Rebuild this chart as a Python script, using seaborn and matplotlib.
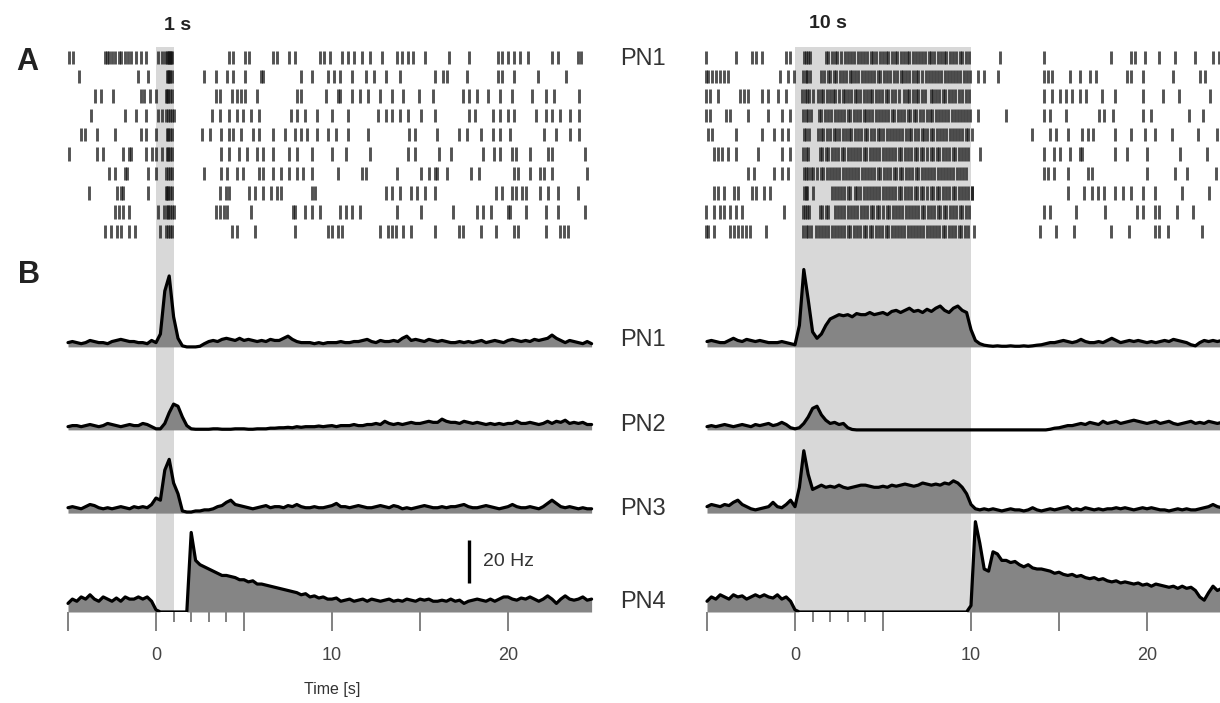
import numpy as np
import matplotlib
matplotlib.use('Agg')
import matplotlib.pyplot as plt
import seaborn as sns
from matplotlib.ticker import FixedLocator, FixedFormatter

sns.set_theme(style='white')
plt.rcParams['font.family'] = ['Liberation Sans', 'DejaVu Sans']

# ---------------- data ----------------
T_START, T_STEP, N_BINS = -5.0, 0.25, 120
STIM_LEFT, STIM_RIGHT = 1.0, 10.0
NEURONS = ['PN1', 'PN2', 'PN3', 'PN4']
OFFSETS = [123.3, 84.7, 46.0, 0.0]          # stacking baselines (Hz units)
MAJOR_TICKS = [-5, 0, 5, 10, 15, 20]
MAJOR_LABELS = ['', '0', '', '10', '', '20']
MINOR_TICKS = [1, 2, 3, 4]
SCALE_HZ = 20

def parse(s):
    return [float(v) for v in s.replace('|', ' ').split()]

# firing rates (Hz), 4 values per second from -5 s
PN1_L = parse("""2 2.5 2 1.5 | 2 3 2.5 2 | 2 1.5 2.5 3 | 3.5 3 2.5 2.5 | 2 2 1.5 3 |
2 6 26 33 | 14 4 0.5 0 | 0 0 0.3 1.5 | 2.5 3 2.5 3.5 | 4 3.5 3 4 | 3 3.5 3 2.5 |
3 2.5 3.5 3 | 3 4 5 3.5 | 2.5 2 2 2 | 1.5 2 1.5 2 | 2 2 2.5 2 | 2 2.5 2.5 3 |
3.5 2.5 2 3 | 2.5 2.5 3 2.5 | 4 5 3 3.5 | 3 2.5 3.5 3 | 2.5 3 2.5 2 | 2 2.5 2 2.5 |
2 2.5 3 2 | 2.5 3 2.5 2 | 3 3.5 3 2.5 | 3 2.5 3.5 3 | 3.5 4 5.5 4 | 3 2 3 2.5 | 2 1.5 2.5 1.5""")
PN2_L = parse("""1.5 2 2 1.5 | 2 2.5 2 1.5 | 2 3 2.5 2 | 1.5 2 2.5 2 | 2 3 2.5 1.5 |
0.5 0.5 3 8 | 12 11 6 2 | 0.5 0.3 0.3 0.3 | 0.3 0.5 0.5 0.3 | 0.3 0.3 0.5 0.5 |
0.5 0.3 0.3 0.5 | 0.5 0.5 0.8 0.8 | 1 1 1.2 1 | 1.5 1.2 1.5 1.5 | 1.5 1.8 1.5 1.8 |
2 1.5 2 2 | 2 2.5 2 2 | 2.5 2.5 3 2.5 | 4 3 2.5 3 | 2.5 3 3.5 3 | 3 3.5 4 3.5 |
3.5 5 4 3.5 | 3.5 3 4 3.5 | 3 3.5 3 2.5 | 3 2.5 3 2.5 | 3 3 4 3 | 3 3.5 3 2.5 |
3 4 3 4 | 3.5 4.5 3 3.5 | 3 3.5 2.5 2.5""")
PN3_L = parse("""2.5 3 2.5 2 | 3 4 3.5 2.5 | 2 2.5 2 2.5 | 3 2.5 2 3 | 2.5 3 2.5 4 |
7 6 20 25 | 14 9 1 0.5 | 0.5 1 1 1.5 | 1.5 2 3 3.5 | 5 6 4 3.5 | 3 2.5 2 2.5 |
3 3.5 2.5 3 | 3 2.5 3.5 3 | 4 3 2.5 2.5 | 3 2.5 2.5 3 | 3.5 4.5 3 3 | 2.5 3 3.5 3 |
2.5 2.5 3 3.5 | 3 2.5 3.5 3 | 2 2.5 2 2.5 | 3 3.5 3 2.5 | 2.5 3 2.5 3 | 3 3.5 4 3 |
2.5 2.5 3 3.5 | 3 2.5 2 2.5 | 3 4 3 2.5 | 2.5 3 2.5 2 | 3 4.5 6 4.5 | 3 2.5 3 2.5 | 2 2.5 2 2""")
PN4_L = parse("""4 6 5 7 | 6 8 6 5 | 7 6 5 6.5 | 5 7 6 6 | 7 6 7 5 |
1 0 0 0 | 0 0 0 0 | 37 24 22 21 | 20 19 18 17 | 17 16.5 16 15 | 15 14 14.5 13 |
13 12.5 12 11.5 | 11 10.5 10 9.5 | 9 8 8.5 7 | 7.5 6.5 7 6 | 6 6.5 5 5.5 | 6 5 5.5 6 |
5 6 5.5 5 | 5.5 6 5 5.5 | 5 6 5.5 5 | 6 5.5 6 5 | 5 5.5 5 6 | 5 5.5 4 5 |
5.5 6 5.5 5 | 6 5 6 7 | 7 6 5.5 6.5 | 6 7 6 5 | 6 7.5 6 4 | 6 7.5 6 5.5 | 6 7 5.5 6""")

PN1_R = parse("""2.5 3 2.5 2 | 2 3 4 3 | 2.5 3.5 3 2.5 | 3 2.5 2 2 | 2 2.5 2 1.5 |
1 10 36 22 | 7 4 6 10 | 13 14 15 14.5 | 15 14 15.5 15 | 15 16 15 15.5 | 16 15 16.5 17 |
16 17 18 16.5 | 17 16 17.5 16.5 | 18 19 17 16 | 18 19 17 16 | 8 3 1.5 0.8 | 0.5 0.3 0.5 0.3 |
0.3 0.5 0.3 0.3 | 0.5 0.3 0.5 0.8 | 1 1.5 2 2 | 2.5 3 2.5 2 | 2.5 3.5 2.5 2 | 2 2.5 2 3 |
4 3 2 2.5 | 3 2.5 3 2.5 | 2 2.5 2 2.5 | 3 2.5 3.5 3 | 2.5 2 1 0.5 | 2 3 2.5 3 | 2.5 3 2 2""")
PN2_R = parse("""1.5 2 1.5 2 | 2.5 2 1.5 2 | 2.5 2 1.5 2.5 | 2 2.5 3 2 | 2.5 3.5 2.5 1 |
0.5 1 3 6 | 10 11 7 4.5 | 3 3.5 2.5 3 | 1 0.2 0 0 | 0 0 0 0 | 0 0 0 0 |
0 0 0 0 | 0 0 0 0 | 0 0 0 0 | 0 0 0 0 | 0 0 0 0 | 0 0 0 0 |
0 0 0 0 | 0 0 0 0 | 0 0 0.3 0.8 | 1 1.5 2 2 | 2.5 3 2.5 3.5 | 3 2.5 4 3 |
3.5 4 3 3.5 | 4 4.5 4 3.5 | 3 3.5 4 3 | 3.5 4 3 2.5 | 3 3.5 4 3 | 3.5 3 4 3.5 | 3 3.5 3 3""")
PN3_R = parse("""3 4 3.5 3 | 4 3.5 5 6 | 4 3 2 1.5 | 2 2.5 3 5 | 3 2.5 4 6 |
3 12 29 18 | 11 12 13 12 | 12.5 12 13 12 | 11.5 12 12.5 13 | 13 12.5 12 12 | 12.5 12 13 12.5 |
13 13.5 13 12.5 | 13 14 13.5 13 | 13.5 13 14 13.5 | 15 14 12 9 | 4 2 1.5 2 | 1.5 2 1.5 1 |
1.5 2 1.5 1.5 | 1 1.5 2.5 1.5 | 1 1.5 2 1.5 | 2 2.5 3 1.5 | 2 1.5 2.5 2 | 1.5 2 1.5 2 |
2 2.5 2 2.5 | 2 1.5 2 2.5 | 2 2.5 2 1.5 | 1.5 1 1.5 2 | 1.5 2 1.5 1.5 | 2 2.5 3 4 | 3 2.5 2 2""")
PN4_R = parse("""5 7 6 8 | 7 6 8 7 | 7.5 6 7 8 | 7 8 7 6.5 | 8 6 7 5 |
1 0 0 0 | 0 0 0 0 | 0 0 0 0 | 0 0 0 0 | 0 0 0 0 | 0 0 0 0 |
0 0 0 0 | 0 0 0 0 | 0 0 0 0 | 0 0 0 0 | 3 42 32 20 | 19 28 27 24 |
24 23 23.5 22 | 21 22 20.5 20 | 20 19.5 19 18 | 18.5 17.5 17 17.5 | 16.5 17 16 15.5 | 16 15 15.5 14.5 |
14 14.5 13.5 14 | 13.5 13 13.5 12.5 | 13 12 13 12.5 | 12 11.5 12 11 | 12 11 11.5 10 | 7 5.5 9 12 | 10 11 10 10.5""")

# raster spike times (s), PN1, 10 trials, 1 s stimulus
RASTER_L = [
    [-4.93, -4.70, -2.90, -2.80, -2.68, -2.50, -2.34, -2.12, -2.00, -1.78, -1.60, -1.44, -1.11, -0.88, -0.55, 0.13, 0.35, 0.50, 0.60, 0.69, 0.75, 0.80, 0.85, 0.92,
     4.17, 4.40, 5.07, 5.30, 6.65, 6.87, 7.54, 7.88, 9.34, 9.57, 9.90, 10.58, 10.92, 11.25, 11.70, 12.15, 12.83, 13.72, 13.95, 14.29, 14.62, 15.30, 16.65, 17.77,
     19.45, 19.68, 20.02, 20.35, 20.69, 21.14, 22.49, 22.83, 23.95, 24.17],
    [-4.37, -1.00, -0.43, 0.60, 0.69, 0.75, 0.80, 0.90, 2.71, 3.39, 4.06, 4.40, 5.07, 5.97, 6.08, 8.22, 8.89, 9.79, 10.13, 10.47, 11.14, 11.93, 12.38,
     13.05, 13.84, 15.86, 16.31, 16.53, 17.66, 19.45, 19.68, 20.35, 21.70, 23.27],
    [-3.47, -3.13, -2.46, -0.88, -0.66, -0.32, 0.02, 0.55, 0.60, 0.69, 0.80, 0.90, 3.39, 3.61, 4.29, 4.62, 4.85, 5.07, 5.75, 7.99, 8.22, 9.68, 10.35, 10.47,
     11.14, 11.59, 12.04, 12.71, 13.39, 14.06, 14.96, 15.75, 17.43, 17.77, 18.22, 18.89, 19.57, 20.24, 21.36, 22.15, 22.60, 24.06],
    [-3.69, -1.78, -1.11, -0.55, 0.13, 0.35, 0.55, 0.69, 0.80, 0.90, 1.03, 3.16, 3.61, 4.17, 4.62, 4.96, 5.41, 5.86, 7.66, 7.99, 8.44, 9.12, 10.02, 10.92,
     12.60, 13.05, 13.39, 13.84, 14.29, 15.07, 15.86, 17.77, 18.11, 19.12, 19.57, 20.02, 20.35, 21.59, 22.15, 22.49, 22.94, 23.50, 24.06],
    [-4.25, -4.03, -3.35, -2.34, -0.88, -0.55, 0.02, 0.60, 0.69, 0.80, 0.90, 2.60, 3.05, 3.72, 4.17, 4.40, 4.85, 5.52, 5.86, 6.65, 7.32, 7.88, 8.22, 8.56,
     9.12, 9.79, 10.24, 10.92, 12.04, 14.40, 14.74, 15.97, 17.21, 17.66, 18.44, 19.12, 19.57, 20.13, 22.04, 22.71, 23.50, 24.06],
    [-4.93, -3.35, -3.02, -1.89, -1.56, -1.44, -0.55, -0.21, 0.02, 0.35, 0.60, 0.69, 0.80, 0.92, 3.72, 4.17, 4.74, 5.18, 5.75, 6.08, 6.65, 7.54, 7.99, 8.89,
     10.02, 10.80, 12.15, 14.29, 14.74, 16.08, 16.76, 18.56, 19.23, 19.57, 20.24, 20.46, 21.25, 22.26, 22.49, 24.40],
    [-2.68, -2.34, -1.78, -1.67, -0.43, 0.02, 0.58, 0.70, 0.80, 0.90, 2.71, 3.72, 4.06, 4.62, 4.96, 5.86, 6.08, 6.65, 7.10, 7.54, 7.99, 8.33, 8.89, 10.35,
     11.70, 11.93, 13.72, 15.07, 15.52, 15.86, 15.97, 16.53, 17.88, 18.33, 20.35, 20.58, 21.25, 21.81, 22.04, 22.49, 24.51],
    [-3.80, -2.23, -2.01, -1.89, -0.43, 0.55, 0.60, 0.69, 0.80, 0.92, 3.61, 3.95, 4.17, 5.30, 5.63, 6.08, 6.53, 6.87, 7.10, 8.89, 9.01, 13.05, 13.39, 13.84,
     14.51, 14.85, 15.30, 15.86, 19.34, 19.68, 20.24, 20.46, 20.80, 21.03, 21.81, 22.26, 22.83, 23.95],
    [-2.34, -2.12, -1.89, -1.56, 0.13, 0.47, 0.60, 0.69, 0.80, 0.92, 1.03, 3.39, 3.61, 3.84, 4.06, 5.41, 7.77, 7.88, 8.44, 8.89, 9.34, 10.47, 10.80, 11.14,
     11.59, 13.72, 15.07, 16.87, 18.22, 18.56, 19.01, 20.02, 20.13, 21.03, 22.15, 22.83, 24.40],
    [-2.90, -2.57, -2.23, -2.01, -1.56, -1.22, 0.24, 0.58, 0.69, 0.80, 0.92, 4.29, 4.62, 5.63, 7.88, 9.79, 10.02, 10.35, 10.58, 12.71, 13.16, 13.39, 13.61,
     14.06, 14.51, 15.86, 17.21, 17.43, 18.44, 19.34, 20.35, 20.58, 22.15, 22.94, 23.16, 23.39],
]

# raster spike times (s), PN1, 10 trials, 10 s stimulus: outside and inside the stimulus
RASTER_R_OUT = [
    [-5.05, -3.35, -2.45, -2.20, -1.89, -0.53, -0.30, 11.66, 14.14, 17.98, 19.11, 19.33, 19.90, 20.69, 21.59, 22.70, 23.73, 24.07],
    [-5.05, -4.93, -4.71, -4.48, -4.25, -4.03, -3.80, -0.87, -0.42, -0.08, 10.42, 10.76, 11.55, 14.14, 14.37, 14.59, 15.61, 16.17, 16.74, 17.08, 18.88, 19.11, 19.79, 21.50, 23.00, 23.30],
    [-5.05, -4.82, -4.37, -3.13, -2.90, -2.67, -1.89, -1.55, -0.98, -0.53, 14.14, 14.59, 15.05, 15.38, 15.72, 16.17, 16.51, 17.42, 18.21, 19.79, 20.91, 21.80, 23.60],
    [-5.05, -4.82, -3.92, -3.69, -2.67, -1.55, -0.76, -0.30, 10.42, 12.00, 14.14, 14.48, 15.38, 17.30, 17.53, 18.09, 19.79, 20.24, 22.40, 23.20],
    [-4.93, -4.71, -3.35, -1.89, -1.21, -0.76, -0.42, 10.08, 13.47, 14.48, 14.82, 15.50, 16.29, 16.63, 16.96, 18.21, 19.11, 19.90, 20.46, 21.40, 22.90, 24.00],
    [-4.59, -4.37, -4.14, -3.80, -3.35, -2.11, -0.76, -0.30, 10.53, 14.14, 14.71, 15.05, 15.61, 16.17, 16.29, 18.21, 18.88, 20.01, 21.90, 23.40],
    [-2.67, -2.34, -1.21, -0.76, -0.42, 14.14, 14.37, 14.71, 15.50, 16.63, 16.85, 20.01, 21.60, 22.30, 23.90],
    [-4.59, -4.37, -4.03, -3.46, -3.24, -2.45, -2.22, -1.77, -1.43, 10.08, 15.50, 16.40, 16.85, 17.19, 17.53, 18.21, 18.66, 19.11, 19.79, 20.46, 22.00, 23.50],
    [-5.05, -4.59, -4.25, -4.03, -3.69, -3.35, -3.01, -0.64, 14.14, 14.48, 15.95, 17.64, 19.45, 19.79, 20.46, 20.69, 21.70, 22.60],
    [-5.05, -4.93, -4.59, -3.69, -3.46, -3.24, -3.01, -2.79, -2.56, -1.66, 10.19, 13.92, 14.82, 15.84, 17.98, 19.00, 20.46, 20.69, 21.20, 23.10],
]
RASTER_R_IN = [parse(s) for s in [
    "0.5 0.6 0.75 0.85 1.75 1.9 2.1 2.3 2.4 2.6 2.85 3.0 3.2 3.35 3.6 3.75 3.9 4.1 4.3 4.45 4.6 4.85 5.0 5.15 5.3 5.5 5.7 5.8 6.0 6.2 6.35 6.5 6.7 6.9 7.05 7.2 7.4 7.6 7.75 7.9 8.1 8.3 8.45 8.6 8.8 9.0 9.15 9.35 9.5 9.7 9.9",
    "0.45 0.6 0.7 0.85 1.5 1.65 1.85 2.0 2.2 2.35 2.55 2.7 2.9 3.1 3.25 3.4 3.6 3.8 3.95 4.15 4.3 4.5 4.7 4.85 5.05 5.25 5.4 5.65 5.8 6.0 6.15 6.3 6.5 6.7 6.9 7.0 7.2 7.45 7.6 7.8 7.95 8.15 8.3 8.5 8.7 8.85 9.05 9.2 9.4 9.6 9.8 9.95",
    "0.4 0.55 0.7 0.8 1.0 1.3 1.45 1.6 1.8 2.0 2.15 2.3 2.5 2.7 2.85 3.0 3.2 3.4 3.55 3.7 3.9 4.1 4.25 4.4 4.6 4.8 4.95 5.15 5.3 5.5 5.7 5.9 6.2 6.35 6.5 6.7 6.85 7.0 7.2 7.4 7.7 7.85 8.0 8.2 8.4 8.55 8.75 8.9 9.1 9.3 9.5 9.7 9.9",
    "0.45 0.6 0.75 0.9 1.35 1.5 1.7 1.85 2.05 2.3 2.45 2.6 2.8 3.0 3.15 3.35 3.5 3.7 3.9 4.05 4.2 4.4 4.6 4.75 4.95 5.1 5.3 5.5 5.65 5.85 6.0 6.2 6.4 6.55 6.75 6.9 7.1 7.3 7.5 7.65 7.8 8.0 8.2 8.35 8.55 8.7 8.9 9.1 9.25 9.45 9.6 9.8 9.95",
    "0.5 0.65 0.8 1.3 1.5 1.6 1.8 2.0 2.2 2.35 2.5 2.7 2.9 3.05 3.2 3.4 3.6 3.75 3.95 4.1 4.3 4.5 4.7 4.85 5.0 5.2 5.4 5.55 5.75 5.9 6.1 6.3 6.45 6.6 6.8 7.0 7.2 7.35 7.5 7.7 7.85 8.05 8.25 8.4 8.6 8.8 8.95 9.15 9.3 9.5 9.7 9.85",
    "0.45 0.6 0.75 1.4 1.55 1.75 1.9 2.1 2.3 2.45 2.65 2.8 3.0 3.2 3.35 3.55 3.7 3.9 4.05 4.25 4.45 4.6 4.8 5.0 5.15 5.35 5.5 5.7 5.9 6.05 6.25 6.4 6.6 6.8 6.95 7.15 7.3 7.5 7.7 7.85 8.05 8.2 8.4 8.6 8.75 8.95 9.1 9.3 9.5 9.65 9.85",
    "0.5 0.6 0.75 0.9 1.05 1.25 1.45 1.6 1.8 2.0 2.15 2.35 2.5 2.7 2.9 3.05 3.25 3.4 3.6 3.8 3.95 4.15 4.3 4.5 4.7 4.85 5.05 5.2 5.4 5.6 5.75 5.95 6.1 6.3 6.5 6.65 6.85 7.0 7.2 7.4 7.55 7.75 7.9 8.1 8.3 8.45 8.65 8.8 9.0 9.2 9.35 9.55 9.7",
    "0.5 0.6 0.7 1.0 2.1 2.3 2.45 2.6 2.8 3.0 3.15 3.4 3.55 3.7 3.9 4.1 4.25 4.45 4.6 4.8 5.0 5.15 5.35 5.5 5.7 5.9 6.05 6.25 6.4 6.6 6.8 6.95 7.15 7.3 7.5 7.7 7.85 8.05 8.2 8.4 8.6 8.75 8.95 9.1 9.3 9.5 9.65 9.85 10.05",
    "0.45 0.55 0.7 0.8 1.4 1.55 1.75 1.9 2.3 2.45 2.6 2.8 3.0 3.2 3.35 3.55 3.75 3.9 4.1 4.3 4.45 4.65 4.8 5.0 5.2 5.35 5.55 5.75 5.9 6.1 6.3 6.45 6.65 6.8 7.0 7.2 7.35 7.55 7.7 7.9 8.1 8.25 8.45 8.6 8.8 9.0 9.15 9.35 9.5 9.7 9.9",
    "0.45 0.6 0.75 0.9 1.2 1.35 1.55 1.7 1.9 2.1 2.25 2.45 2.6 2.8 3.0 3.15 3.35 3.5 3.7 3.9 4.05 4.25 4.4 4.6 4.8 4.95 5.15 5.3 5.5 5.7 5.85 6.05 6.2 6.4 6.6 6.75 6.95 7.1 7.3 7.5 7.65 7.85 8.0 8.2 8.4 8.55 8.75 8.9 9.1 9.3 9.45 9.65 9.85",
]]

# ---------------- layout ----------------
W, H = 1220, 703
PX_PER_S = 17.6
PX_PER_HZ = 2.15
BASE_PX = 612      # PN4 baseline (pixels from top)
TOP_PX = 40
RASTER_TOP = 258.0
RASTER_STEP = 9.0
RASTER_LEN = 6.3
SHADE_TOP = 263.0

FILL = '#858585'
SHADE = '#d8d8d8'

fig = plt.figure(figsize=(W / 100, H / 100), dpi=100)

def make_axes(zero_px, xmin, xmax):
    left = zero_px + xmin * PX_PER_S
    width = (xmax - xmin) * PX_PER_S
    ax = fig.add_axes([left / W, (H - BASE_PX) / H, width / W, (BASE_PX - TOP_PX) / H])
    ax.set_xlim(xmin, xmax)
    ax.set_ylim(0, (BASE_PX - TOP_PX) / PX_PER_HZ)
    return ax

axL = make_axes(156, -5.3, 25.3)
axR = make_axes(795, -5.3, (W - 795) / PX_PER_S)

time = T_START + T_STEP * np.arange(N_BINS)
panels = [
    (axL, STIM_LEFT, [PN1_L, PN2_L, PN3_L, PN4_L], RASTER_L),
    (axR, STIM_RIGHT, [PN1_R, PN2_R, PN3_R, PN4_R],
     [sorted(a + b) for a, b in zip(RASTER_R_OUT, RASTER_R_IN)]),
]

for ax, stim, traces, raster in panels:
    ax.fill_between([0, stim], 0, SHADE_TOP, color=SHADE, lw=0, zorder=0)
    offs = [RASTER_TOP - RASTER_STEP * k for k in range(len(raster))]
    ax.eventplot(raster, lineoffsets=offs, linelengths=RASTER_LEN,
                 colors='#111111', linewidths=2.1, alpha=0.72, zorder=2)
    for vals, off in zip(traces, OFFSETS):
        v = np.asarray(vals)
        assert len(v) == N_BINS
        ax.fill_between(time, off, off + v, color=FILL, lw=0, zorder=3)
        sns.lineplot(x=time, y=off + v, ax=ax, color='black', lw=2.3,
                     estimator=None, sort=False, zorder=4)
    for s in ax.spines.values():
        s.set_visible(False)
    ax.set_yticks([])
    ax.xaxis.set_major_locator(FixedLocator(MAJOR_TICKS))
    ax.xaxis.set_major_formatter(FixedFormatter(MAJOR_LABELS))
    ax.xaxis.set_minor_locator(FixedLocator(MINOR_TICKS))
    ax.tick_params(axis='x', which='both', bottom=True, direction='out',
                   color='#777777', width=1.3)
    ax.tick_params(axis='x', which='major', length=14, labelsize=13,
                   labelcolor='#444444', pad=11)
    ax.tick_params(axis='x', which='minor', length=7)
    ax.set_xlabel('')
    ax.set_ylabel('')

axL.set_xlabel('Time [s]', fontsize=11.5, color='#333333', labelpad=13)

# scale bar
axL.plot([17.8, 17.8], [13.5, 13.5 + SCALE_HZ], color='black', lw=2.4, solid_capstyle='butt')
axL.text(18.6, 13.5 + SCALE_HZ / 2, f'{SCALE_HZ} Hz', fontsize=14, color='#333333',
         ha='left', va='center')

def ftext(xpx, ypx, s, **kw):
    fig.text(xpx / W, 1 - ypx / H, s, ha='center', va='center', **kw)

ftext(27, 62, 'A', fontsize=22, fontweight='bold', color='#222222')
ftext(29, 275, 'B', fontsize=22, fontweight='bold', color='#222222')
ftext(178, 25, '1 s', fontsize=14, fontweight='bold', color='#222222')
ftext(828, 24, '10 s', fontsize=14, fontweight='bold', color='#222222')
ftext(643, 59, 'PN1', fontsize=17, color='#333333')
for name, ypx in zip(NEURONS, [340, 425, 509, 602]):
    ftext(643, ypx, name, fontsize=17, color='#333333')

fig.savefig('out.png', dpi=100, facecolor='white')
